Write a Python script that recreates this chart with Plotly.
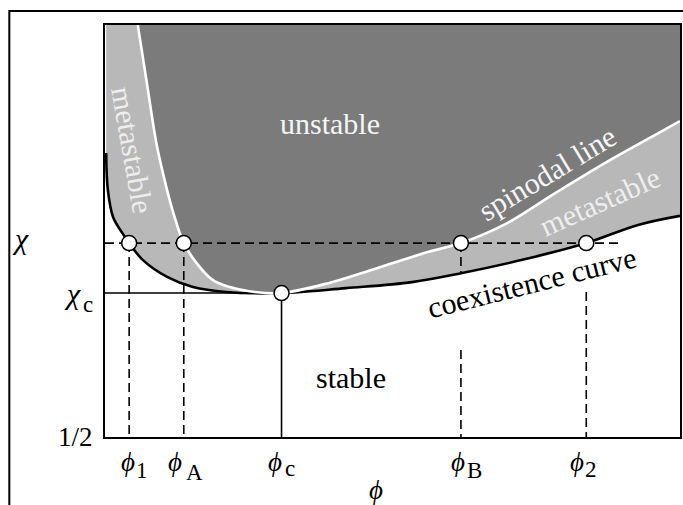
import plotly.graph_objects as go

# Phase diagram of a binary blend: interaction parameter chi vs composition phi
# Coexistence (binodal) curve, sampled along phi
phi_binodal = [0.002, 0.005, 0.014, 0.030, 0.042, 0.066, 0.108, 0.153, 0.211,
               0.307, 0.419, 0.534, 0.621, 0.724, 0.837, 0.927, 1.0]
chi_binodal = [1.534, 1.399, 1.301, 1.243, 1.206, 1.144, 1.083, 1.046, 1.028,
               1.024, 1.042, 1.064, 1.097, 1.144, 1.206, 1.272, 1.305]

# Spinodal line, sampled along phi
phi_spinodal = [0.057, 0.072, 0.090, 0.108, 0.121, 0.137, 0.159, 0.187, 0.217,
                0.260, 0.307, 0.390, 0.447, 0.506, 0.563, 0.619, 0.697, 0.783,
                0.870, 0.957, 1.0]
chi_spinodal = [2.000, 1.800, 1.563, 1.399, 1.301, 1.206, 1.134, 1.072, 1.046,
                1.028, 1.024, 1.061, 1.097, 1.137, 1.174, 1.206, 1.276, 1.388,
                1.498, 1.600, 1.650]

# Marked compositions and interaction parameters
chi_c = 1.024
chi_quench = 1.206
phi_1, phi_A, phi_c, phi_B, phi_2 = 0.042, 0.137, 0.307, 0.619, 0.837
point_names = ["1", "A", "c", "B", "2"]
point_phis = [phi_1, phi_A, phi_c, phi_B, phi_2]
chi_min = 0.5
chi_max = 2.0

# Upper tops of the lower dashed drops (below the curve label)
phi_dash_end = 0.898
chi_gap_B = 0.817
chi_gap_2 = 1.028

DARK = "#7b7b7b"
LIGHT = "#b8b8b8"
SERIF = "Liberation Serif"
PHI = "\u03d5"
CHI = "\u03c7"

fig = go.Figure()

# light grey: everything above the coexistence curve
fig.add_trace(go.Scatter(x=[phi_binodal[0], phi_binodal[-1]], y=[2.6, 2.6],
                         mode="lines", line=dict(width=0), hoverinfo="skip"))
fig.add_trace(go.Scatter(x=phi_binodal, y=chi_binodal, mode="lines",
                         line=dict(width=0, shape="spline", smoothing=1.0),
                         fill="tonexty", fillcolor=LIGHT, hoverinfo="skip"))
# dark grey: everything above the spinodal
fig.add_trace(go.Scatter(x=[phi_spinodal[0], phi_spinodal[-1]], y=[2.6, 2.6],
                         mode="lines", line=dict(width=0), hoverinfo="skip"))
fig.add_trace(go.Scatter(x=phi_spinodal, y=chi_spinodal, mode="lines",
                         line=dict(width=0, shape="spline", smoothing=1.0),
                         fill="tonexty", fillcolor=DARK, hoverinfo="skip"))

# reference lines at the critical point
fig.add_trace(go.Scatter(x=[0, phi_c, phi_c], y=[chi_c, chi_c, chi_min], mode="lines",
                         line=dict(color="black", width=1.6)))
# dashed quench line and drops to the phi axis
dash = dict(color="black", width=1.6, dash="9px,5px")
fig.add_trace(go.Scatter(x=[0, phi_dash_end], y=[chi_quench, chi_quench],
                         mode="lines", line=dash))
for p in (phi_1, phi_A):
    fig.add_trace(go.Scatter(x=[p, p], y=[chi_quench, chi_min], mode="lines", line=dash))
fig.add_trace(go.Scatter(x=[phi_B, phi_B, None, phi_B, phi_B],
                         y=[chi_quench, 1.097, None, chi_gap_B, chi_min],
                         mode="lines", line=dash))
fig.add_trace(go.Scatter(x=[phi_2, phi_2], y=[chi_gap_2, chi_min], mode="lines", line=dash))

# the two curves
fig.add_trace(go.Scatter(x=phi_binodal, y=chi_binodal, mode="lines",
                         line=dict(color="black", width=2.6, shape="spline", smoothing=1.0)))
fig.add_trace(go.Scatter(x=phi_spinodal, y=chi_spinodal, mode="lines",
                         line=dict(color="white", width=2.6, shape="spline", smoothing=1.0)))

# open circles
fig.add_trace(go.Scatter(x=[phi_1, phi_A, phi_c, phi_B, phi_2],
                         y=[chi_quench, chi_quench, chi_c, chi_quench, chi_quench],
                         mode="markers",
                         marker=dict(size=15, color="white",
                                     line=dict(color="black", width=1.5))))

ann = []


def label(text, x, y, size=30, color="black", angle=0, xref="x", yref="y",
          xshift=0, yshift=0):
    ann.append(dict(text=text, x=x, y=y, xref=xref, yref=yref, showarrow=False,
                    textangle=angle, xanchor="center", yanchor="middle",
                    xshift=xshift, yshift=yshift,
                    font=dict(family=SERIF, size=size, color=color)))


# region names
label("unstable", 0.392, 1.643, color="#f6f6f6")
label("stable", 0.428, 0.715)
label("metastable", 0.047, 1.545, color="#eeeeee", angle=80)
label("spinodal line", 0.768, 1.461, color="#f6f6f6", angle=-31)
label("metastable", 0.860, 1.356, color="#eeeeee", angle=-24)
label("coexistence curve", 0.742, 1.061, angle=-14)

# phi tick labels with subscripts
phi_dx = [-1.5, -8.5, -6.5, -3, -9.5]
sub_dx = [12.5, 10.5, 8, 13.5, 5]
sub_dy = [-9, -11, -7, -9, -8]
for name, p, dx, sx, sy in zip(point_names, point_phis, phi_dx, sub_dx, sub_dy):
    label(f"<i>{PHI}</i>", p, -0.06, size=27, yref="paper", xshift=dx)
    label(name, p, -0.06, size=23, yref="paper", xshift=sx, yshift=sy)
label(f"<i>{PHI}</i>", 0.471, -0.128, size=27, yref="paper")

# chi axis labels
label(f"<i>{CHI}</i>", -0.147, chi_quench, size=30, xref="paper", yshift=5)
label(f"<i>{CHI}</i>", -0.057, chi_c, size=30, xref="paper")
label("c", -0.029, chi_c, size=23, xref="paper", yshift=-11)
label("1/2", -0.052, chi_min, size=27, xref="paper")

fig.update_layout(
    width=683, height=505,
    margin=dict(l=105, r=1, t=25, b=68),
    paper_bgcolor="white", plot_bgcolor="white",
    showlegend=False,
    annotations=ann,
    shapes=[dict(type="path", xref="paper", yref="paper",
                 path="M -0.1664 -0.3 L -0.1664 1.034 L 1.1 1.034",
                 line=dict(color="black", width=2))],
)
axis_style = dict(showline=True, mirror=True, linecolor="black", linewidth=1.6,
                  showticklabels=False, ticks="", showgrid=False, zeroline=False)
fig.update_xaxes(range=[0, 1], **axis_style)
fig.update_yaxes(range=[chi_min, chi_max], **axis_style)

fig.write_html("out.html")
